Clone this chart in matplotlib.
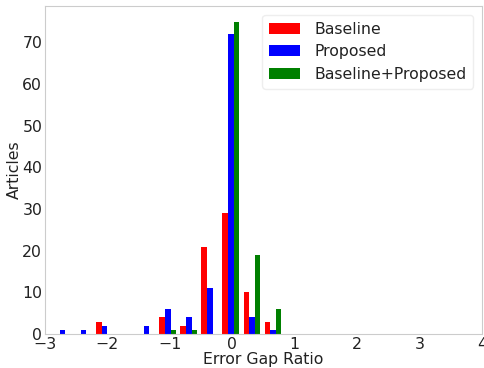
import numpy as np
import matplotlib
matplotlib.use("Agg")
import matplotlib.pyplot as plt

# Histogram bins (11 bins between min and max of data)
bin_lo, bin_hi, n_bins = -2.89, 0.82, 11
baseline_counts = [0, 0, 3, 0, 0, 4, 2, 21, 29, 10, 3]
proposed_counts = [1, 1, 2, 0, 2, 6, 4, 11, 72, 4, 1]
combined_counts = [0, 0, 0, 0, 0, 1, 1, 0, 75, 19, 6]
labels = ["Baseline", "Proposed", "Baseline+Proposed"]
colors = ["red", "blue", "green"]
xticks = [-3, -2, -1, 0, 1, 2, 3, 4]
yticks = [0, 10, 20, 30, 40, 50, 60, 70]

edges = np.linspace(bin_lo, bin_hi, n_bins + 1)
centers = (edges[:-1] + edges[1:]) / 2

fs = 11.3
fig = plt.figure(figsize=(4.84, 3.68), dpi=100)
ax = fig.add_axes([0.093, 0.092, 0.903, 0.892])

ax.hist([centers, centers, centers], bins=edges,
        weights=[baseline_counts, proposed_counts, combined_counts],
        color=colors, label=labels)

ax.set_xlim(-3, 4)
ax.set_ylim(0, 78.75)
ax.set_xticks(xticks)
ax.set_yticks(yticks)
ax.tick_params(length=0, labelsize=fs, pad=2, colors="#222222")
for s in ax.spines.values():
    s.set_color("#cccccc")
    s.set_linewidth(0.8)
ax.set_xlabel("Error Gap Ratio", fontsize=fs, labelpad=0, color="#222222")
ax.set_ylabel("Articles", fontsize=fs, labelpad=0, color="#222222")
leg = ax.legend(loc="upper right", fontsize=fs, handlelength=2.0,
                handletextpad=0.9, framealpha=1.0, edgecolor="#eeeeee",
                fancybox=True, borderaxespad=0.6)
for t in leg.get_texts():
    t.set_color("#222222")

fig.savefig("out.png", dpi=100)
